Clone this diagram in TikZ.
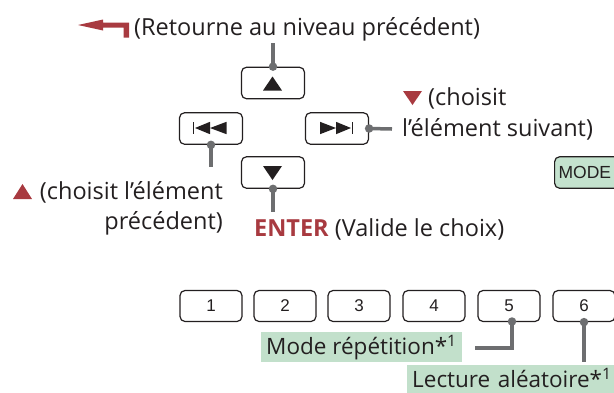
\documentclass[tikz,border=0pt]{standalone}
\usepackage{fontspec}
\setmainfont{Open Sans}
\newfontfamily\btnfont{Liberation Sans}
\definecolor{txt}{HTML}{231F20}
\definecolor{redc}{HTML}{A83A40}
\definecolor{grayc}{HTML}{6D6E70}
\definecolor{greenl}{HTML}{C2E0CB}
\definecolor{greenm}{HTML}{C4E2CE}
\tikzset{
  btn/.style={draw=txt, line width=1.2pt, rounded corners=5pt, minimum width=63pt, minimum height=31.5pt, inner sep=0pt, text=txt, font=\btnfont\fontsize{17}{17}\selectfont},
  numbtn/.style={btn, minimum width=62pt, minimum height=31pt},
  lbl/.style={text=txt, font=\fontsize{23.5}{28}\selectfont, inner sep=0pt, anchor=base west},
  glbl/.style={lbl, font=\fontsize{22.5}{27}\selectfont, fill=greenl, inner xsep=5pt, inner ysep=0pt, text depth=8pt, text height=22pt},
  conn/.style={draw=grayc, line width=3.5pt},
  dotc/.style={circle, fill=grayc, inner sep=0pt, minimum size=8.5pt},
  tri/.style={fill=txt},
}
\begin{document}
\begin{tikzpicture}[x=1pt,y=-1pt]
\useasboundingbox (0,0) rectangle (614,392);
\clip (0,0) rectangle (614,392);
% return arrow
\fill[redc] (78,25) -- (103,19.5) -- (103,22.5) -- (129,22.5) -- (129,37.5) -- (123.5,37.5) -- (123.5,27.5) -- (103,27.5) -- (103,30.5) -- cycle;
\node[lbl] (ret) at (134,35) {(Retourne au niveau précédent)};
% buttons
\node[btn] (up) at (273,83) {};
\node[btn] (prev) at (211,128.5) {};
\node[btn] (next) at (337,128.5) {};
\node[btn] (down) at (273,172.5) {};
\node[btn, fill=greenm, minimum width=64pt, anchor=west, font=\btnfont\fontsize{17.5}{17.5}\selectfont] (mode) at (554,172.5) {\hspace*{4pt}MODE\hspace*{20pt}};
% symbols
\fill[tri] (263,90.5) -- (282,90.5) -- (272.5,76.5) -- cycle;
\fill[tri] (263,166) -- (282,166) -- (272.5,180) -- cycle;
\fill[tri] (192.5,121.8) rectangle (194.3,134.2);
\fill[tri] (195,128) -- (210,121.8) -- (210,134.2) -- cycle;
\fill[tri] (210,128) -- (226.5,121.8) -- (226.5,134.2) -- cycle;
\fill[tri] (351.5,121.8) rectangle (353.3,134.2);
\fill[tri] (351,128) -- (336,121.8) -- (336,134.2) -- cycle;
\fill[tri] (336,128) -- (320,121.8) -- (320,134.2) -- cycle;
% connectors
\coordinate (upend) at (273,43);
\coordinate (prevend) at (211,167);
\coordinate (nextend) at (392,129);
\coordinate (downend) at (273,212);
\draw[conn] (up.north) -- (upend);
\node[dotc] at (up.north) {};
\draw[conn] (prev.south) -- (prevend);
\node[dotc] at (prev.south) {};
\draw[conn] (next.east) -- (nextend);
\node[dotc] at (next.east) {};
\draw[conn] (down.south) -- (downend);
\node[dotc] at (down.south) {};
% labels
\fill[redc] (403,91) -- (422,91) -- (412.5,105) -- cycle;
\node[lbl] (nx1) at (428,105) {(choisit};
\node[lbl] (nx2) at (402,136) {l’élément suivant)};
\fill[redc] (13,199) -- (32,199) -- (22.5,184) -- cycle;
\node[lbl, anchor=base east] (pv1) at (223,199) {(choisit l’élément};
\node[lbl, anchor=base east] (pv2) at (223,229) {précédent)};
\node[lbl] (ent) at (254,236) {\textbf{\color{redc}ENTER} (Valide le choix)};
% number buttons
\node[numbtn] (n1) at (211,306) {1};
\node[numbtn] (n2) at (285,306) {2};
\node[numbtn] (n3) at (359,306) {3};
\node[numbtn] (n4) at (434,306) {4};
\node[numbtn] (n5) at (509,306) {5};
\node[numbtn] (n6) at (584,306) {6};
\node[glbl] (rep) at (261,354) {Mode répétition*\textsuperscript{1}};
\node[glbl, minimum width=215pt, align=left, text width=205pt] (alea) at (407,387) {Lecture aléatoire*\textsuperscript{1}};
\coordinate (repend) at (475,348);
\coordinate (aleaend) at (584,362);
\draw[conn] (512,321.5) |- (repend);
\node[dotc] at (512,321.5) {};
\draw[conn] (n6.south) -- (aleaend);
\node[dotc] at (n6.south) {};
\end{tikzpicture}
\end{document}
